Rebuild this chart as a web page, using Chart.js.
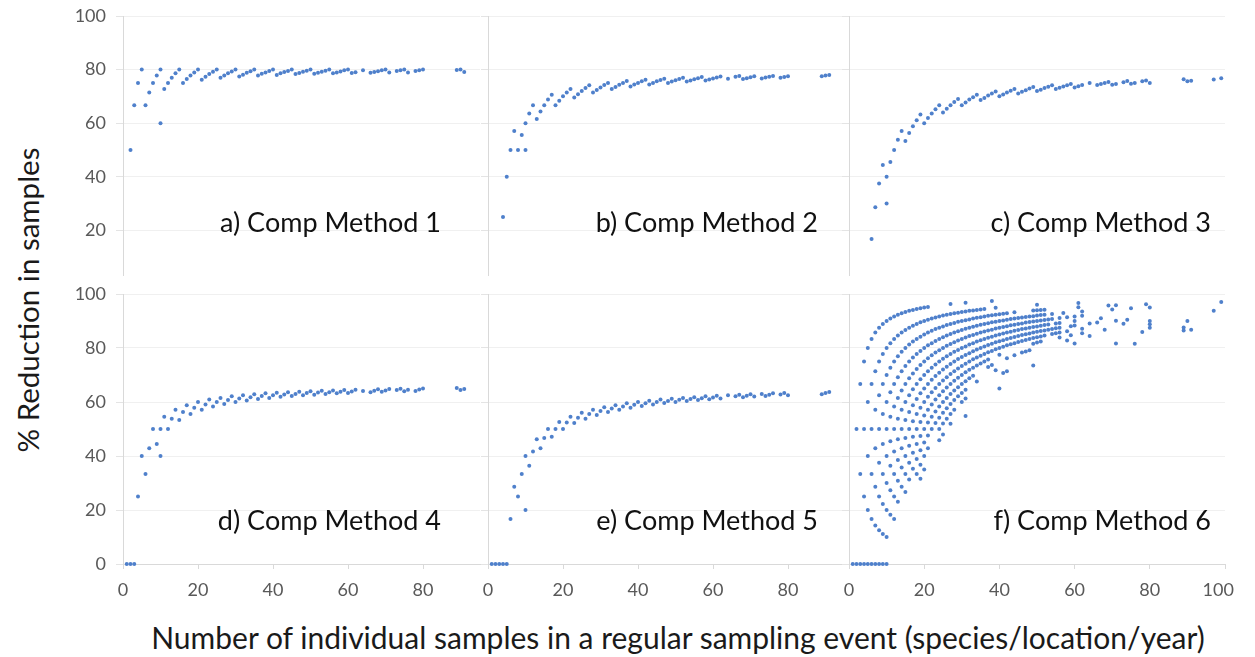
<!doctype html>
<html>
<head>
<meta charset="utf-8">
<title>Reduction in samples by composite method</title>
<script src="https://cdn.jsdelivr.net/npm/chart.js@4.4.1/dist/chart.umd.min.js"></script>
<style>
  body { margin: 0; background: #fff; width: 1255px; height: 657px; position: relative; overflow: hidden; font-family: Lato, sans-serif; }
  canvas.panel { position: absolute; }
  .ytitle { position: absolute; left: 27px; top: 300px; transform: translate(-50%, -50%) rotate(-90deg); white-space: nowrap; font-size: 29.5px; color: #1a1a1a; }
  .xtitle { position: absolute; left: 678px; top: 637px; transform: translate(-50%, -50%); white-space: nowrap; font-size: 30px; color: #1a1a1a; }
</style>
</head>
<body>
<div class="ytitle">% Reduction in samples</div>
<div class="xtitle">Number of individual samples in a regular sampling event (species/location/year)</div>

<script>
// ---- data -----------------------------------------------------------
var panelNames = ['a) Comp Method 1', 'b) Comp Method 2', 'c) Comp Method 3',
                  'd) Comp Method 4', 'e) Comp Method 5', 'f) Comp Method 6'];
var yTicksTop = [20, 40, 60, 80, 100];
var yTicksBottom = [0, 20, 40, 60, 80, 100];
var xTicksShort = [0, 20, 40, 60, 80];
var xTicksLong = [0, 20, 40, 60, 80, 100];

var m1X = [2, 3, 4, 5, 6, 7, 8, 9, 10, 10,
  11, 12, 13, 14, 15, 16, 17, 18, 19, 20,
  21, 22, 23, 24, 25, 26, 27, 28, 29, 30,
  31, 32, 33, 34, 35, 36, 37, 38, 39, 40,
  41, 42, 43, 44, 45, 46, 47, 48, 49, 50,
  51, 52, 53, 54, 55, 56, 57, 58, 59, 60,
  61, 62, 64, 66, 67, 68, 69, 70, 71,
  73, 74, 75, 76, 78, 79, 80, 89, 90, 91];
var m1Y = [50, 66.7, 75, 80, 66.7, 71.4, 75, 77.8, 80, 60,
  72.7, 75, 76.9, 78.6, 80, 75, 76.5, 77.8, 78.9, 80,
  76.2, 77.3, 78.3, 79.2, 80, 76.9, 77.8, 78.6, 79.3, 80,
  77.4, 78.1, 78.8, 79.4, 80, 77.8, 78.4, 78.9, 79.5, 80,
  78, 78.6, 79.1, 79.5, 80, 78.3, 78.7, 79.2, 79.6, 80,
  78.4, 78.8, 79.2, 79.6, 80, 78.6, 78.9, 79.3, 79.7, 80,
  78.7, 79, 79.7, 78.8, 79.1, 79.4, 79.7, 80, 78.9,
  79.5, 79.7, 80, 78.9, 79.5, 79.7, 80, 79.8, 80, 79.1];

var m2X = [4, 5, 6, 7, 8, 9, 10, 10,
  11, 12, 13, 14, 15, 16, 17, 18, 19, 20,
  21, 22, 23, 24, 25, 26, 27, 28, 29, 30,
  31, 32, 33, 34, 35, 36, 37, 38, 39, 40,
  41, 42, 43, 44, 45, 46, 47, 48, 49, 50,
  51, 52, 53, 54, 55, 56, 57, 58, 59, 60,
  61, 62, 64, 66, 67, 68, 69, 70, 71,
  73, 74, 75, 76, 78, 79, 80, 89, 90, 91];
var m2Y = [25, 40, 50, 57.1, 50, 55.6, 60, 50,
  63.6, 66.7, 61.5, 64.3, 66.7, 68.8, 70.6, 66.7, 68.4, 70,
  71.4, 72.7, 69.6, 70.8, 72, 73.1, 74.1, 71.4, 72.4, 73.3,
  74.2, 75, 72.7, 73.5, 74.3, 75, 75.7, 73.7, 74.4, 75,
  75.6, 76.2, 74.4, 75, 75.6, 76.1, 76.6, 75, 75.5, 76,
  76.5, 76.9, 75.5, 75.9, 76.4, 76.8, 77.2, 75.9, 76.3, 76.7,
  77, 77.4, 76.6, 77.3, 77.6, 76.5, 76.8, 77.1, 77.5,
  76.7, 77, 77.3, 77.6, 76.9, 77.2, 77.5, 77.5, 77.8, 78];

var m3X = [6, 7, 8, 9, 10, 10,
  11, 12, 13, 14, 15, 16, 17, 18, 19, 20,
  21, 22, 23, 24, 25, 26, 27, 28, 29, 30,
  31, 32, 33, 34, 35, 36, 37, 38, 39, 40,
  41, 42, 43, 44, 45, 46, 47, 48, 49, 50,
  51, 52, 53, 54, 55, 56, 57, 58, 59, 60,
  61, 62, 64, 66, 67, 68, 69, 70, 71,
  73, 74, 75, 76, 78, 79, 80, 89, 90, 91, 97, 99];
var m3Y = [16.7, 28.6, 37.5, 44.4, 40, 30,
  45.5, 50, 53.8, 57.1, 53.3, 56.3, 58.8, 61.1, 63.2, 60,
  61.9, 63.6, 65.2, 66.7, 64, 65.4, 66.7, 67.9, 69, 66.7,
  67.7, 68.8, 69.7, 70.6, 68.6, 69.4, 70.3, 71.1, 71.8, 70,
  70.7, 71.4, 72.1, 72.7, 71.1, 71.7, 72.3, 72.9, 73.5, 72,
  72.5, 73.1, 73.6, 74.1, 72.7, 73.2, 73.7, 74.1, 74.6, 73.3,
  73.8, 74.2, 75, 74.2, 74.6, 75, 75.4, 74.3, 74.6,
  75.3, 75.7, 74.7, 75, 75.6, 75.9, 75, 76.4, 75.6, 75.8, 76.3, 76.8];

var m4X = [1, 2, 3, 4, 5, 6, 7, 8, 9, 10, 10,
  11, 12, 13, 14, 15, 16, 17, 18, 19, 20,
  21, 22, 23, 24, 25, 26, 27, 28, 29, 30,
  31, 32, 33, 34, 35, 36, 37, 38, 39, 40,
  41, 42, 43, 44, 45, 46, 47, 48, 49, 50,
  51, 52, 53, 54, 55, 56, 57, 58, 59, 60,
  61, 62, 64, 66, 67, 68, 69, 70, 71,
  73, 74, 75, 76, 78, 79, 80, 89, 90, 91];
var m4Y = [0, 0, 0, 25, 40, 33.3, 42.9, 50, 44.4, 50, 40,
  54.5, 50, 53.8, 57.1, 53.3, 56.3, 58.8, 55.6, 57.9, 60,
  57.1, 59.1, 60.9, 58.3, 60, 61.5, 59.3, 60.7, 62.1, 60,
  61.3, 62.5, 60.6, 61.8, 62.9, 61.1, 62.2, 63.2, 61.5, 62.5,
  63.4, 61.9, 62.8, 63.6, 62.2, 63, 63.8, 62.5, 63.3, 64,
  62.7, 63.5, 64.2, 63, 63.6, 64.3, 63.2, 63.8, 64.4, 63.3,
  63.9, 64.5, 64.1, 63.6, 64.2, 64.7, 63.8, 64.3, 64.8,
  64.4, 64.9, 64, 64.5, 64.1, 64.6, 65, 65.2, 64.4, 64.8];

var m5X = [1, 2, 3, 4, 5, 6, 7, 8, 9, 10, 10,
  11, 12, 13, 14, 15, 16, 17, 18, 19, 20,
  21, 22, 23, 24, 25, 26, 27, 28, 29, 30,
  31, 32, 33, 34, 35, 36, 37, 38, 39, 40,
  41, 42, 43, 44, 45, 46, 47, 48, 49, 50,
  51, 52, 53, 54, 55, 56, 57, 58, 59, 60,
  61, 62, 64, 66, 67, 68, 69, 70, 71,
  73, 74, 75, 76, 78, 79, 80, 89, 90, 91];
var m5Y = [0, 0, 0, 0, 0, 16.7, 28.6, 25, 33.3, 40, 20,
  36.4, 41.7, 46.2, 42.9, 46.7, 50, 47.1, 50, 52.6, 50,
  52.4, 54.5, 52.2, 54.2, 56, 53.8, 55.6, 57.1, 55.2, 56.7,
  58.1, 56.3, 57.6, 58.8, 57.1, 58.3, 59.5, 57.9, 59, 60,
  58.5, 59.5, 60.5, 59.1, 60, 60.9, 59.6, 60.4, 61.2, 60,
  60.8, 61.5, 60.4, 61.1, 61.8, 60.7, 61.4, 62.1, 61, 61.7,
  62.3, 61.3, 62.5, 62.1, 62.7, 61.8, 62.3, 62.9, 62,
  63, 62.2, 62.7, 63.2, 62.8, 63.3, 62.5, 62.9, 63.3, 63.7];

// method 6: every sample count with all the reductions observed for it
var m6Columns = [
  [1, [0]],
  [2, [50, 0]],
  [3, [66.7, 33.3, 0]],
  [4, [75, 50, 25, 0]],
  [5, [80, 60, 40, 20, 0]],
  [6, [83.3, 66.7, 50, 33.3, 16.7, 0]],
  [7, [85.7, 71.4, 57.1, 42.9, 28.6, 14.3, 0]],
  [8, [87.5, 75, 62.5, 50, 37.5, 25, 12.5, 0]],
  [9, [88.9, 77.8, 66.7, 55.6, 44.4, 33.3, 22.2, 11.1, 0]],
  [10, [90, 80, 70, 60, 50, 40, 30, 20, 10, 0]],
  [11, [90.9, 81.8, 72.7, 63.6, 54.5, 45.5, 36.4, 27.3, 18.2]],
  [12, [91.7, 83.3, 75, 66.7, 58.3, 50, 41.7, 33.3, 25, 16.7]],
  [13, [92.3, 84.6, 76.9, 69.2, 61.5, 53.8, 46.2, 38.5, 30.8, 23.1]],
  [14, [92.9, 85.7, 78.6, 71.4, 64.3, 57.1, 50, 42.9, 35.7, 28.6]],
  [15, [93.3, 86.7, 80, 73.3, 66.7, 60, 53.3, 46.7, 40, 33.3, 26.7]],
  [16, [93.8, 87.5, 81.3, 75, 68.8, 62.5, 56.3, 50, 43.8, 37.5, 31.3]],
  [17, [94.1, 88.2, 82.4, 76.5, 70.6, 64.7, 58.8, 52.9, 47.1, 41.2, 35.3]],
  [18, [94.4, 88.9, 83.3, 77.8, 72.2, 66.7, 61.1, 55.6, 50, 44.4, 38.9, 33.3]],
  [19, [94.7, 89.5, 84.2, 78.9, 73.7, 68.4, 63.2, 57.9, 52.6, 47.4, 42.1, 36.8, 31.6]],
  [20, [95, 90, 85, 80, 75, 70, 65, 60, 55, 50, 45, 40, 35]],
  [21, [95.2, 90.5, 85.7, 81, 76.2, 71.4, 66.7, 61.9, 57.1, 52.4, 47.6, 42.9]],
  [22, [90.9, 86.4, 81.8, 77.3, 72.7, 68.2, 63.6, 59.1, 54.5, 50]],
  [23, [91.3, 87, 82.6, 78.3, 73.9, 69.6, 65.2, 60.9, 56.5, 52.2]],
  [24, [91.7, 87.5, 83.3, 79.2, 75, 70.8, 66.7, 62.5, 58.3, 54.2, 50, 45.8]],
  [25, [92, 88, 84, 80, 76, 72, 68, 64, 60, 56, 52, 48]],
  [26, [92.3, 88.5, 84.6, 80.8, 76.9, 73.1, 69.2, 65.4, 61.5, 57.7, 53.8]],
  [27, [96.3, 92.6, 88.9, 85.2, 81.5, 77.8, 74.1, 70.4, 66.7, 63, 59.3, 55.6, 51.9]],
  [28, [92.9, 89.3, 85.7, 82.1, 78.6, 75, 71.4, 67.9, 64.3, 60.7, 57.1]],
  [29, [93.1, 89.7, 86.2, 82.8, 79.3, 75.9, 72.4, 69, 65.5, 62.1]],
  [30, [93.3, 90, 86.7, 83.3, 80, 76.7, 73.3, 70, 66.7, 63.3, 60]],
  [31, [96.8, 93.5, 90.3, 87.1, 83.9, 80.6, 77.4, 74.2, 71, 67.7, 64.5, 61.3, 54.8]],
  [32, [93.8, 90.6, 87.5, 84.4, 81.3, 78.1, 75, 71.9, 68.8]],
  [33, [93.9, 90.9, 87.9, 84.8, 81.8, 78.8, 75.8, 72.7, 69.7]],
  [34, [94.1, 91.2, 88.2, 85.3, 82.4, 79.4, 76.5, 73.5, 67.6]],
  [35, [94.3, 91.4, 88.6, 85.7, 82.9, 80, 77.1, 74.3]],
  [36, [94.4, 91.7, 88.9, 86.1, 83.3, 80.6, 77.8, 75]],
  [37, [91.9, 89.2, 86.5, 83.8, 81.1, 78.4, 75.7, 73]],
  [38, [97.4, 92.1, 89.5, 86.8, 84.2, 81.6, 78.9, 73.7]],
  [39, [94.9, 92.3, 89.7, 87.2, 84.6, 82.1, 79.5, 71.8]],
  [40, [92.5, 90, 87.5, 85, 82.5, 80, 77.5, 65]],
  [41, [92.7, 90.2, 87.8, 85.4, 82.9, 80.5, 70.7]],
  [42, [92.9, 90.5, 88.1, 85.7, 83.3, 81, 76.2, 71.4]],
  [43, [90.7, 88.4, 86, 83.7, 81.4]],
  [44, [93.2, 90.9, 88.6, 86.4, 84.1, 81.8, 77.3]],
  [45, [91.1, 88.9, 86.7, 84.4, 82.2]],
  [46, [91.3, 89.1, 87, 84.8, 82.6, 78.3]],
  [47, [91.5, 89.4, 87.2, 85.1, 83, 78.7]],
  [48, [91.7, 89.6, 87.5, 85.4, 83.3, 79.2]],
  [49, [93.9, 91.8, 89.8, 87.8, 85.7, 83.7, 81.6, 73.5]],
  [50, [96, 94, 92, 90, 88, 86, 84, 82]],
  [51, [94.1, 92.2, 90.2, 88.2, 86.3, 84.3, 82.4]],
  [52, [94.2, 92.3, 90.4, 88.5, 86.5, 84.6]],
  [53, [90.6, 88.7, 86.8]],
  [54, [92.6, 90.7, 87, 85.2]],
  [55, [89.1, 87.3, 85.5]],
  [56, [91.1, 89.3, 87.5, 85.7, 83.9]],
  [57, [93]],
  [58, [91.4, 86.2, 82.8]],
  [59, [88.1, 84.7]],
  [60, [91.7, 90, 88.3, 81.7]],
  [61, [96.7, 95.1]],
  [62, [93.5, 91.9, 87.1, 85.5]],
  [64, [89.1, 84.4]],
  [66, [89.4]],
  [67, [91]],
  [68, [86.8]],
  [69, [95.7]],
  [70, [94.3]],
  [71, [95.8, 90.1, 81.7]],
  [73, [89]],
  [74, [90.5]],
  [75, [94.7]],
  [76, [81.6]],
  [78, [85.9]],
  [79, [96.2]],
  [80, [95, 90, 88.8, 87.5]],
  [89, [87.6, 86.5]],
  [90, [90]],
  [91, [86.8]],
  [97, [93.8]],
  [99, [97]]
];

// ---- helpers ----------------------------------------------------------
function pairs(xs, ys) {
  return xs.map(function (x, i) { return {x: x, y: ys[i]}; });
}

function columns(cols) {
  var out = [];
  cols.forEach(function (c) {
    c[1].forEach(function (y) { out.push({x: c[0], y: y}); });
  });
  return out;
}

// keep tick labels from pushing the plot area around
function noLabelPadding(s) {
  s.paddingTop = 0;
  s.paddingBottom = 0;
  s.paddingLeft = 0;
  s.paddingRight = 0;
}

var DOT = '#4f80cb';
var AXIS = '#d9d9d9';
var GRID = '#f0f0f0';
var TICK_TEXT = '#595959';

// draws the "x) Comp Method n" caption inside each plot
var panelLabel = {
  id: 'panelLabel',
  afterDraw: function (chart, args, opts) {
    var ctx = chart.ctx;
    ctx.save();
    ctx.font = '27px Lato';
    ctx.fillStyle = '#111';
    ctx.textAlign = 'right';
    ctx.textBaseline = 'alphabetic';
    ctx.fillText(opts.text, opts.x, opts.y);
    ctx.restore();
  }
};

// plot boxes in page pixels: area left/right/top/bottom, caption right/baseline
var panels = [
  {name: panelNames[0], pts: pairs(m1X, m1Y), area: [123, 480, 16, 277], yMin: 3.3, xMax: 95.2, yLabels: true,  xAxis: false, lab: [441, 232]},
  {name: panelNames[1], pts: pairs(m2X, m2Y), area: [488, 842, 16, 277], yMin: 3.3, xMax: 94.4, yLabels: false, xAxis: false, lab: [818, 232]},
  {name: panelNames[2], pts: pairs(m3X, m3Y), area: [849, 1225, 16, 277], yMin: 3.3, xMax: 100, yLabels: false, xAxis: false, lab: [1211, 232]},
  {name: panelNames[3], pts: pairs(m4X, m4Y), area: [123, 480, 294, 564], yMin: 0, xMax: 95.2, yLabels: true,  xAxis: true, lab: [441, 530]},
  {name: panelNames[4], pts: pairs(m5X, m5Y), area: [488, 842, 294, 564], yMin: 0, xMax: 94.4, yLabels: false, xAxis: true, lab: [818, 530]},
  {name: panelNames[5], pts: columns(m6Columns), area: [849, 1225, 294, 564], yMin: 0, xMax: 100, yLabels: false, xAxis: true, lab: [1211, 530]}
];

panels.forEach(function (p) {
  var L = p.yLabels ? 70 : 10;
  var R = p.xMax === 100 ? 28 : 8;
  var T = 12;
  var B = p.xAxis ? 36 : 0;
  var left = p.area[0] - L, top = p.area[2] - T;
  var w = p.area[1] - p.area[0] + L + R;
  var h = p.area[3] - p.area[2] + T + B;

  var canvas = document.createElement('canvas');
  canvas.className = 'panel';
  canvas.width = w;
  canvas.height = h;
  canvas.style.left = left + 'px';
  canvas.style.top = top + 'px';
  canvas.style.width = w + 'px';
  canvas.style.height = h + 'px';
  document.body.appendChild(canvas);

  var xTicks = p.xMax === 100 ? xTicksLong : xTicksShort;
  var yTicks = p.yMin > 0 ? yTicksTop : yTicksBottom;

  new Chart(canvas, {
    type: 'scatter',
    data: {
      datasets: [{
        data: p.pts,
        pointRadius: 2,
        pointHoverRadius: 2,
        pointBackgroundColor: DOT,
        pointBorderWidth: 0,
        clip: false
      }]
    },
    options: {
      responsive: false,
      animation: false,
      events: [],
      layout: {padding: {top: T, right: R, left: 0, bottom: 0}},
      plugins: {
        legend: {display: false},
        tooltip: {enabled: false},
        panelLabel: {text: p.name, x: p.lab[0] - left, y: p.lab[1] - top}
      },
      scales: {
        x: {
          type: 'linear',
          min: 0,
          max: p.xMax,
          display: p.xAxis,
          afterBuildTicks: function (s) { s.ticks = xTicks.map(function (v) { return {value: v}; }); },
          afterFit: function (s) { s.height = B; noLabelPadding(s); },
          border: {display: true, color: AXIS, width: 1},
          grid: {drawOnChartArea: false, drawTicks: true, tickLength: 5, tickColor: AXIS},
          ticks: {
            padding: 10,
            color: TICK_TEXT,
            font: {family: 'Lato', size: 18},
            maxRotation: 0,
            callback: function (v) { return v === 100 ? '100\u2003' : String(v); }
          }
        },
        y: {
          type: 'linear',
          min: p.yMin,
          max: 100,
          afterBuildTicks: function (s) { s.ticks = yTicks.map(function (v) { return {value: v}; }); },
          afterFit: function (s) { s.width = L; noLabelPadding(s); },
          border: {display: true, color: AXIS, width: 1},
          grid: {color: GRID, lineWidth: 1, drawTicks: true, tickLength: 7, tickColor: '#e4e4e4'},
          ticks: {
            display: p.yLabels,
            padding: 10,
            color: TICK_TEXT,
            font: {family: 'Lato', size: 18}
          }
        }
      }
    },
    plugins: [panelLabel]
  });
});
</script>
</body>
</html>
